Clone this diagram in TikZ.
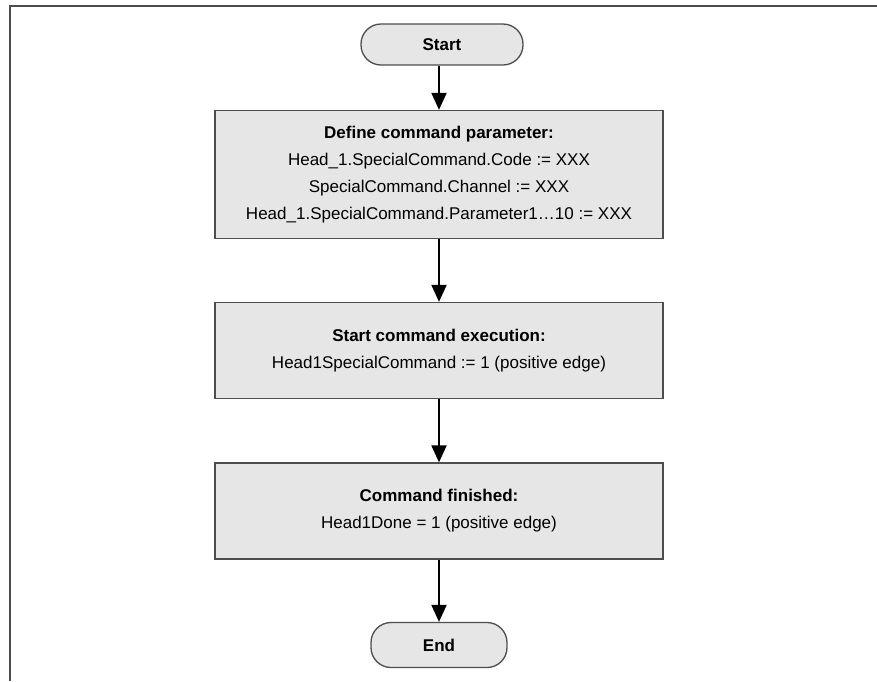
\documentclass[tikz,border=0pt]{standalone}
\usepackage{fontspec}
\setmainfont{Liberation Sans}
\usetikzlibrary{arrows.meta}
\definecolor{boxfill}{HTML}{E6E6E6}
\definecolor{boxline}{HTML}{4D4D4D}
\tikzset{
  stepbox/.style={draw=boxline, line width=1.3pt, fill=boxfill, inner sep=0pt,
    minimum width=448pt, align=center, font=\fontsize{17}{27}\selectfont},
  terminal/.style={draw=boxline, line width=1.3pt, fill=boxfill, rounded corners=20pt,
    inner sep=0pt, font=\fontsize{17}{20}\selectfont\bfseries},
  flow/.style={-{Triangle[width=15pt,length=17pt]}, line width=2pt}
}
\begin{document}
\begin{tikzpicture}[x=1pt,y=-1pt]
\useasboundingbox (0,0) rectangle (877,681);
\draw[boxline, line width=2pt] (9.8,681)--(9.8,6.3)--(877,6.3);
\pgfmathsetmacro{\mx}{439}
\node[terminal, minimum width=162pt, minimum height=41pt] (start) at (\mx+3,44.5) {Start};
\node[stepbox, minimum height=128pt] (define) at (\mx,174.5)
  {\textbf{Define command parameter:}\\
   Head\_1.SpecialCommand.Code := XXX\\
   SpecialCommand.Channel := XXX\\
   Head\_1.SpecialCommand.Parameter1…10 := XXX};
\node[stepbox, minimum height=96pt] (exec) at (\mx,350.5)
  {\textbf{Start command execution:}\\
   Head1SpecialCommand := 1 (positive edge)};
\node[stepbox, minimum height=96pt] (done) at (\mx,511)
  {\textbf{Command finished:}\\
   Head1Done = 1 (positive edge)};
\node[terminal, minimum width=136pt, minimum height=45pt] (end) at (\mx,645) {End};
\draw[flow] (start.south -| define.north) -- (define.north);
\draw[flow] (define) -- (exec);
\draw[flow] (exec) -- (done);
\draw[flow] (done) -- (end);
\end{tikzpicture}
\end{document}
